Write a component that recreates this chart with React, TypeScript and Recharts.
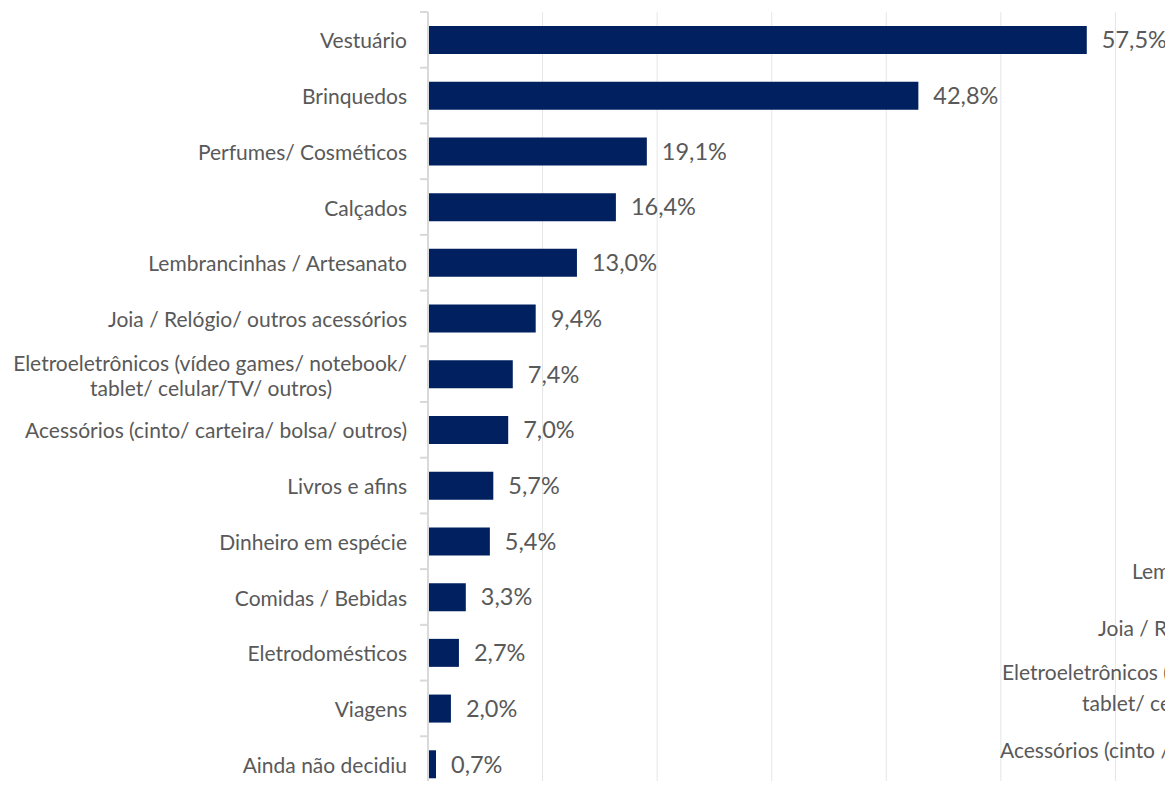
import React from "react";
import { BarChart, Bar, XAxis, YAxis, CartesianGrid, LabelList } from "recharts";

const categories = [
  "Vestuário",
  "Brinquedos",
  "Perfumes/ Cosméticos",
  "Calçados",
  "Lembrancinhas / Artesanato",
  "Joia / Relógio/  outros acessórios",
  "Eletroeletrônicos (vídeo games/ notebook/\ntablet/ celular/TV/ outros)",
  "Acessórios (cinto/ carteira/ bolsa/ outros)",
  "Livros e afins",
  "Dinheiro em espécie",
  "Comidas / Bebidas",
  "Eletrodomésticos",
  "Viagens",
  "Ainda não decidiu",
];
const values = [57.5, 42.8, 19.1, 16.4, 13.0, 9.4, 7.4, 7.0, 5.7, 5.4, 3.3, 2.7, 2.0, 0.7];
const xTicks = [0, 10, 20, 30, 40, 50, 60, 70];

// leftover labels from a second chart that bleed in at the bottom right of the picture
const ghostLabels = [
  "Lembrancinhas / Artesanato",
  "Joia / Relógio / outros acessórios",
  "Eletroeletrônicos (vídeo games/ notebook/",
  "tablet/ celular/TV/ outros)",
  "Acessórios (cinto / carteira / bolsa / outros)",
];
const ghostPos = [
  { x: 1132, y: 570 },
  { x: 1098, y: 627 },
  { x: 1002, y: 671 },
  { x: 1082, y: 702 },
  { x: 1000, y: 749 },
];

const data = categories.map((name, i) => ({ name, value: values[i] }));

const FONT = "Lato, 'Open Sans', sans-serif";
const INK = "#595959";
const NAVY = "#002060";
const AXIS_X = 428;
const TOP = 12;
const PLOT_H = 780;
const BAND = PLOT_H / categories.length;
const LBL = 21;

const CatTick = ({ y, payload }: any) => {
  const lines = String(payload.value).split("\n");
  return (
    <g>
      <line x1={AXIS_X - 8} x2={AXIS_X} y1={y - BAND / 2} y2={y - BAND / 2} stroke="#d9d9d9" strokeWidth={2} />
      {lines.length === 1 ? (
        <text x={407} y={y} textAnchor="end" dominantBaseline="central"
              fill={INK} fontSize={LBL} fontFamily={FONT}>{lines[0]}</text>
      ) : (
        <>
          <text x={407} y={y - 12} textAnchor="end" dominantBaseline="central"
                fill={INK} fontSize={LBL} fontFamily={FONT}>{lines[0]}</text>
          <text x={332} y={y + 13} textAnchor="end" dominantBaseline="central"
                fill={INK} fontSize={LBL} fontFamily={FONT}>{lines[1]}</text>
        </>
      )}
    </g>
  );
};

const pct = (v: any) => (+v).toFixed(1).replace(".", ",") + "%";

export default function App() {
  return (
    <div style={{ margin: -8, position: "relative", width: 1173, height: 789, overflow: "hidden", background: "#fff" }}>
      <BarChart
        width={1260} height={TOP + PLOT_H + 8} data={data} layout="vertical"
        margin={{ top: TOP, right: 30, bottom: 8, left: 0 }}
        barSize={28}
      >
        <CartesianGrid horizontal={false} stroke="#e6e6e6" />
        <XAxis type="number" domain={[0, 70]} ticks={xTicks} hide />
        <YAxis type="category" dataKey="name" width={AXIS_X} interval={0}
               axisLine={{ stroke: "#d9d9d9", strokeWidth: 2 }} tickLine={false}
               tick={<CatTick />} />
        <Bar dataKey="value" fill={NAVY} isAnimationActive={false}>
          <LabelList dataKey="value" position="right" offset={15} formatter={pct}
                     fill={INK} fontSize={23.5} fontFamily={FONT} />
        </Bar>
      </BarChart>
      <svg width={1173} height={789} style={{ position: "absolute", left: 0, top: 0, pointerEvents: "none" }}>
        {ghostLabels.map((t, i) => (
          <text key={t} x={ghostPos[i].x} y={ghostPos[i].y} dominantBaseline="central"
                fill={INK} fontSize={LBL} fontFamily={FONT}>{t}</text>
        ))}
      </svg>
    </div>
  );
}
